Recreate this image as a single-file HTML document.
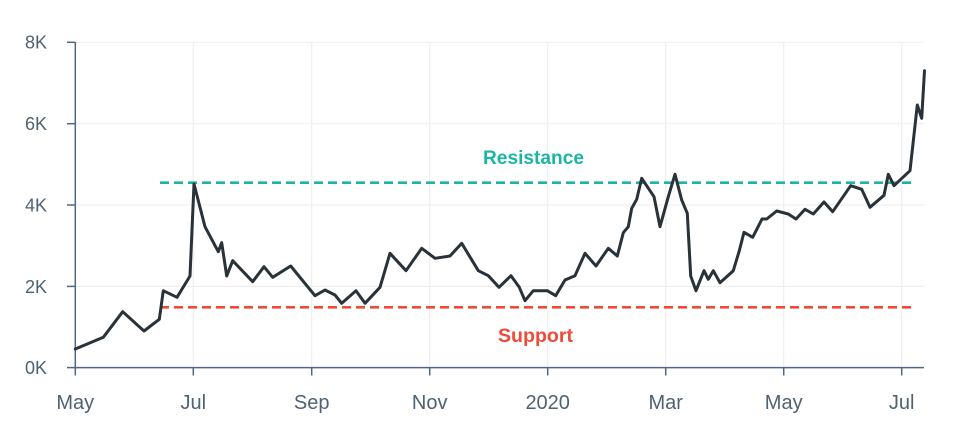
<!DOCTYPE html>
<html>
<head>
<meta charset="utf-8">
<style>
  html,body{margin:0;padding:0;background:#fff;}
  svg{display:block;}
  text{font-family:"Liberation Sans",sans-serif;}
</style>
</head>
<body>
<svg width="960" height="445" viewBox="0 0 960 445" xmlns="http://www.w3.org/2000/svg">
  <!-- gridlines -->
  <g stroke="#efefef" stroke-width="1.2">
    <line x1="75" y1="42.3" x2="924" y2="42.3"/>
    <line x1="75" y1="123.7" x2="924" y2="123.7"/>
    <line x1="75" y1="205" x2="924" y2="205"/>
    <line x1="75" y1="286.4" x2="924" y2="286.4"/>
    <line x1="193.3" y1="42" x2="193.3" y2="367.5"/>
    <line x1="311.7" y1="42" x2="311.7" y2="367.5"/>
    <line x1="429.7" y1="42" x2="429.7" y2="367.5"/>
    <line x1="547.7" y1="42" x2="547.7" y2="367.5"/>
    <line x1="665.7" y1="42" x2="665.7" y2="367.5"/>
    <line x1="783.7" y1="42" x2="783.7" y2="367.5"/>
    <line x1="901.7" y1="42" x2="901.7" y2="367.5"/>
  </g>
  <!-- axes -->
  <g stroke="#506784" stroke-width="1.5" fill="none">
    <line x1="75.3" y1="42" x2="75.3" y2="368"/>
    <line x1="75" y1="367.6" x2="924" y2="367.6"/>
    <line x1="67" y1="42.3" x2="75" y2="42.3"/>
    <line x1="67" y1="123.7" x2="75" y2="123.7"/>
    <line x1="67" y1="205" x2="75" y2="205"/>
    <line x1="67" y1="286.4" x2="75" y2="286.4"/>
    <line x1="67" y1="367.6" x2="75" y2="367.6"/>
    <line x1="75.3" y1="367.6" x2="75.3" y2="375.5"/>
    <line x1="193.3" y1="367.6" x2="193.3" y2="375.5"/>
    <line x1="311.7" y1="367.6" x2="311.7" y2="375.5"/>
    <line x1="429.7" y1="367.6" x2="429.7" y2="375.5"/>
    <line x1="547.7" y1="367.6" x2="547.7" y2="375.5"/>
    <line x1="665.7" y1="367.6" x2="665.7" y2="375.5"/>
    <line x1="783.7" y1="367.6" x2="783.7" y2="375.5"/>
    <line x1="901.7" y1="367.6" x2="901.7" y2="375.5"/>
  </g>
  <!-- y labels -->
  <g fill="#4f6272" font-size="18" text-anchor="end">
    <text x="47" y="48.7">8K</text>
    <text x="47" y="130.1">6K</text>
    <text x="47" y="211.4">4K</text>
    <text x="47" y="292.8">2K</text>
    <text x="47" y="374">0K</text>
  </g>
  <!-- x labels -->
  <g fill="#4f6272" font-size="20" text-anchor="middle">
    <text x="75.3" y="409">May</text>
    <text x="193.3" y="409">Jul</text>
    <text x="311.7" y="409">Sep</text>
    <text x="429.7" y="409">Nov</text>
    <text x="547.7" y="409">2020</text>
    <text x="665.7" y="409">Mar</text>
    <text x="783.7" y="409">May</text>
    <text x="901.7" y="409">Jul</text>
  </g>
  <!-- resistance / support -->
  <line x1="160" y1="182.7" x2="916" y2="182.7" stroke="#1bb5a6" stroke-width="2.6" stroke-dasharray="9,5"/>
  <line x1="160" y1="307.3" x2="916" y2="307.3" stroke="#ef4b3a" stroke-width="2.6" stroke-dasharray="9,5"/>
  <text x="533.5" y="164" font-size="19" font-weight="bold" fill="#1bb5a6" text-anchor="middle" textLength="101" lengthAdjust="spacingAndGlyphs">Resistance</text>
  <text x="535.5" y="342" font-size="19" font-weight="bold" fill="#ef4b3a" text-anchor="middle" textLength="75" lengthAdjust="spacingAndGlyphs">Support</text>
  <!-- price line -->
  <polyline fill="none" stroke="#283238" stroke-width="3" stroke-linejoin="round" stroke-linecap="round"
    points="75.3,349 103.3,337.3 122.7,311.7 144,331 159.3,319.3 163.3,290.7 177,297.3 190,276 194,184 205,226.7 218.3,251.7 221.7,242.7 226.7,276 232.7,260.7 252.7,281.7 264,266.7 272.7,277.3 290.7,266 315,295.7 325,290 335,295 341.7,303.3 356,290.7 365,303.3 380,287.3 390,253.3 406,270.7 421.7,248.3 435,258.3 450,256 461.7,243.3 478.3,270.7 488.3,275.7 499,287.3 511,275.7 519.3,287.3 525,300.7 533.3,290.7 547.3,290.7 555.7,295.7 565,280 575,275.7 585,253.3 596,266 608.3,248.3 617.3,256 623.3,232.7 628.3,226.7 631.7,208.3 636.7,199.3 641.7,178.3 654,196.7 660,226.7 668.3,196.7 675,174.3 681.7,200 687.3,213.3 690.7,276 696,290.7 704,270.7 708.3,279.3 713.3,270.7 720,282.7 733.3,270.7 739.3,250.7 744,232.3 752.7,237.3 762,219 766.7,219 776.7,211 788.3,214 796,219 805,209.3 813.3,214 824,202 832.7,211.7 850.7,185.7 861.7,189.3 870,207.3 884,195.3 888.3,174.3 894,185.7 910,170.7 917.3,105 921.7,118.3 924.5,70.7"/>
</svg>
</body>
</html>
